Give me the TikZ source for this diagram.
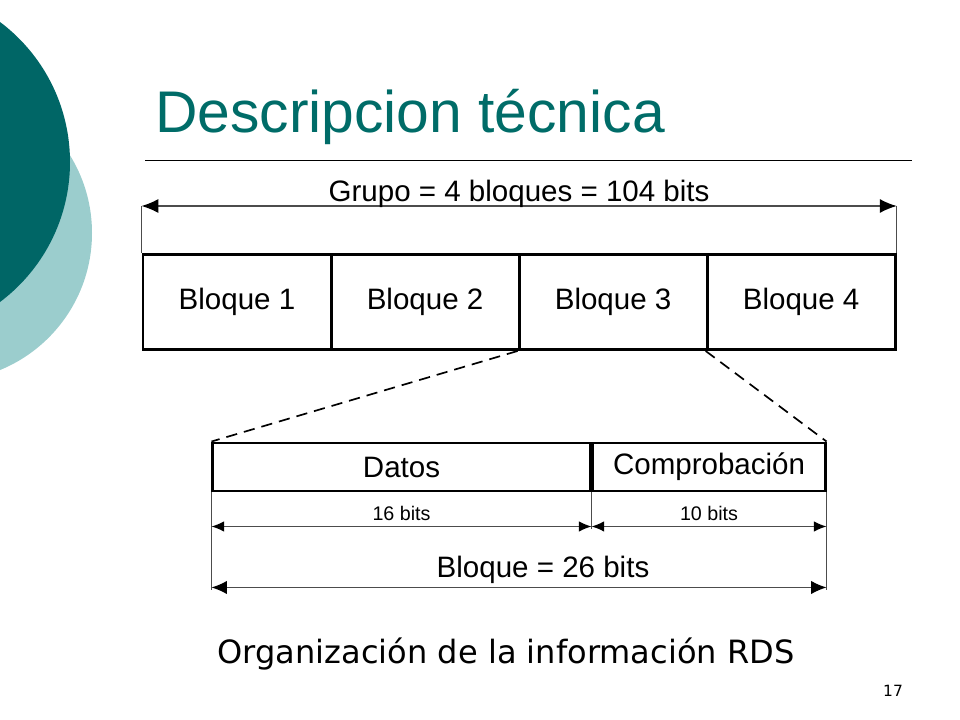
\documentclass[tikz,border=0pt]{standalone}
\usepackage{fontspec}
\setmainfont{Liberation Sans}
\newfontfamily\capfont{DejaVu Sans}
\usetikzlibrary{positioning,arrows.meta,calc}
\definecolor{tealdark}{RGB}{0,102,102}
\definecolor{teallight}{RGB}{155,205,205}
\definecolor{titleteal}{RGB}{0,108,104}
\tikzset{
    on grid,
    node distance=4.7cm,
    block/.style = {
        draw,
        shape=rectangle,
        minimum height=2.375cm,
        minimum width=4.7cm,
        line width=2.1pt,
        font=\fontsize{21}{25}\selectfont
    },
    field/.style = {
        draw,
        shape=rectangle,
        minimum height=1.2cm,
        line width=2.1pt,
        font=\fontsize{21}{25}\selectfont
    },
    guide/.style = {
        draw=black!70,
        line width=0.9pt
    },
    bigdim/.style = {
        guide,
        {Latex[length=12pt,width=10pt,color=black]}-{Latex[length=12pt,width=10pt,color=black]}
    },
    smalldim/.style = {
        guide,
        {Latex[length=9pt,width=7.5pt,color=black]}-{Latex[length=9pt,width=7.5pt,color=black]}
    },
    middim/.style = {
        guide,
        {Latex[length=11pt,width=9.5pt,color=black]}-{Latex[length=11pt,width=9.5pt,color=black]}
    },
    zoomline/.style = {
        draw,
        line width=1.2pt,
        dash pattern=on 8pt off 5pt
    },
}

\begin{document}
\begin{tikzpicture}[x=0.025cm,y=-0.025cm]
        \useasboundingbox (0,0) rectangle (960,720);

        % slide background
        \fill[teallight] (-56,233) circle (148);
        \fill[tealdark] (-105,162) circle (175);

        \node[anchor=base west, text=titleteal, inner sep=0pt,
              font=\fontsize{41.8}{48}\selectfont] (title) at (155,133) {Descripcion técnica};
        \draw[line width=0.7pt] (145,160) -- (912,160);

        % group of four blocks
        \node[block] (b1) at (237,302) {Bloque 1};
        \node[block, right of=b1] (b2) {Bloque 2};
        \node[block, right of=b2] (b3) {Bloque 3};
        \node[block, right of=b3] (b4) {Bloque 4};

        \coordinate (gl) at ($(b1.north west)+(0,-47)$);
        \coordinate (gr) at ($(b4.north east)+(0,-47)$);
        \path[guide] (b1.north west) -- (gl);
        \path[guide] (b4.north east) -- (gr);
        \path[bigdim] (gl) -- node[anchor=base, yshift=3.5pt,
            font=\fontsize{21}{25}\selectfont] {Grupo = 4 bloques = 104 bits} (gr);

        % one block
        \node[field, minimum width=9.425cm] (datos) at (401.5,467) {Datos};
        \node[field, minimum width=5.8cm, anchor=west] (chk) at (datos.east) {Comprobación};

        \path[zoomline] (b3.south west) -- (datos.north west);
        \path[zoomline] (b4.south west) -- (chk.north east);

        \coordinate (dl) at ($(datos.south west)+(0,34)$);
        \coordinate (dm) at ($(datos.south east)+(0,34)$);
        \coordinate (dr) at ($(chk.south east)+(0,34)$);
        \coordinate (bl) at ($(datos.south west)+(0,95)$);
        \coordinate (br) at ($(chk.south east)+(0,95)$);

        \path[guide] (datos.south west) -- ($(bl)+(0,3)$);
        \path[guide] (datos.south east) -- ($(dm)+(0,3)$);
        \path[guide] (chk.south east) -- ($(br)+(0,3)$);

        \path[smalldim] (dl) -- node[anchor=base, yshift=4.3pt,
            font=\fontsize{14}{16}\selectfont] {16 bits} (dm);
        \path[smalldim] (dm) -- node[anchor=base, yshift=4.3pt,
            font=\fontsize{14}{16}\selectfont] {10 bits} (dr);
        \path[middim] (bl) -- node[anchor=base, yshift=7pt, xshift=0.6cm,
            font=\fontsize{21}{25}\selectfont] {Bloque = 26 bits} (br);

        \node[anchor=base, font=\capfont\fontsize{22.8}{27}\selectfont] (caption)
            at (506,663) {Organización de la información RDS};
        \node[anchor=base, font=\capfont\fontsize{11}{13}\selectfont] (page)
            at (893,696) {17};
\end{tikzpicture}
\end{document}
